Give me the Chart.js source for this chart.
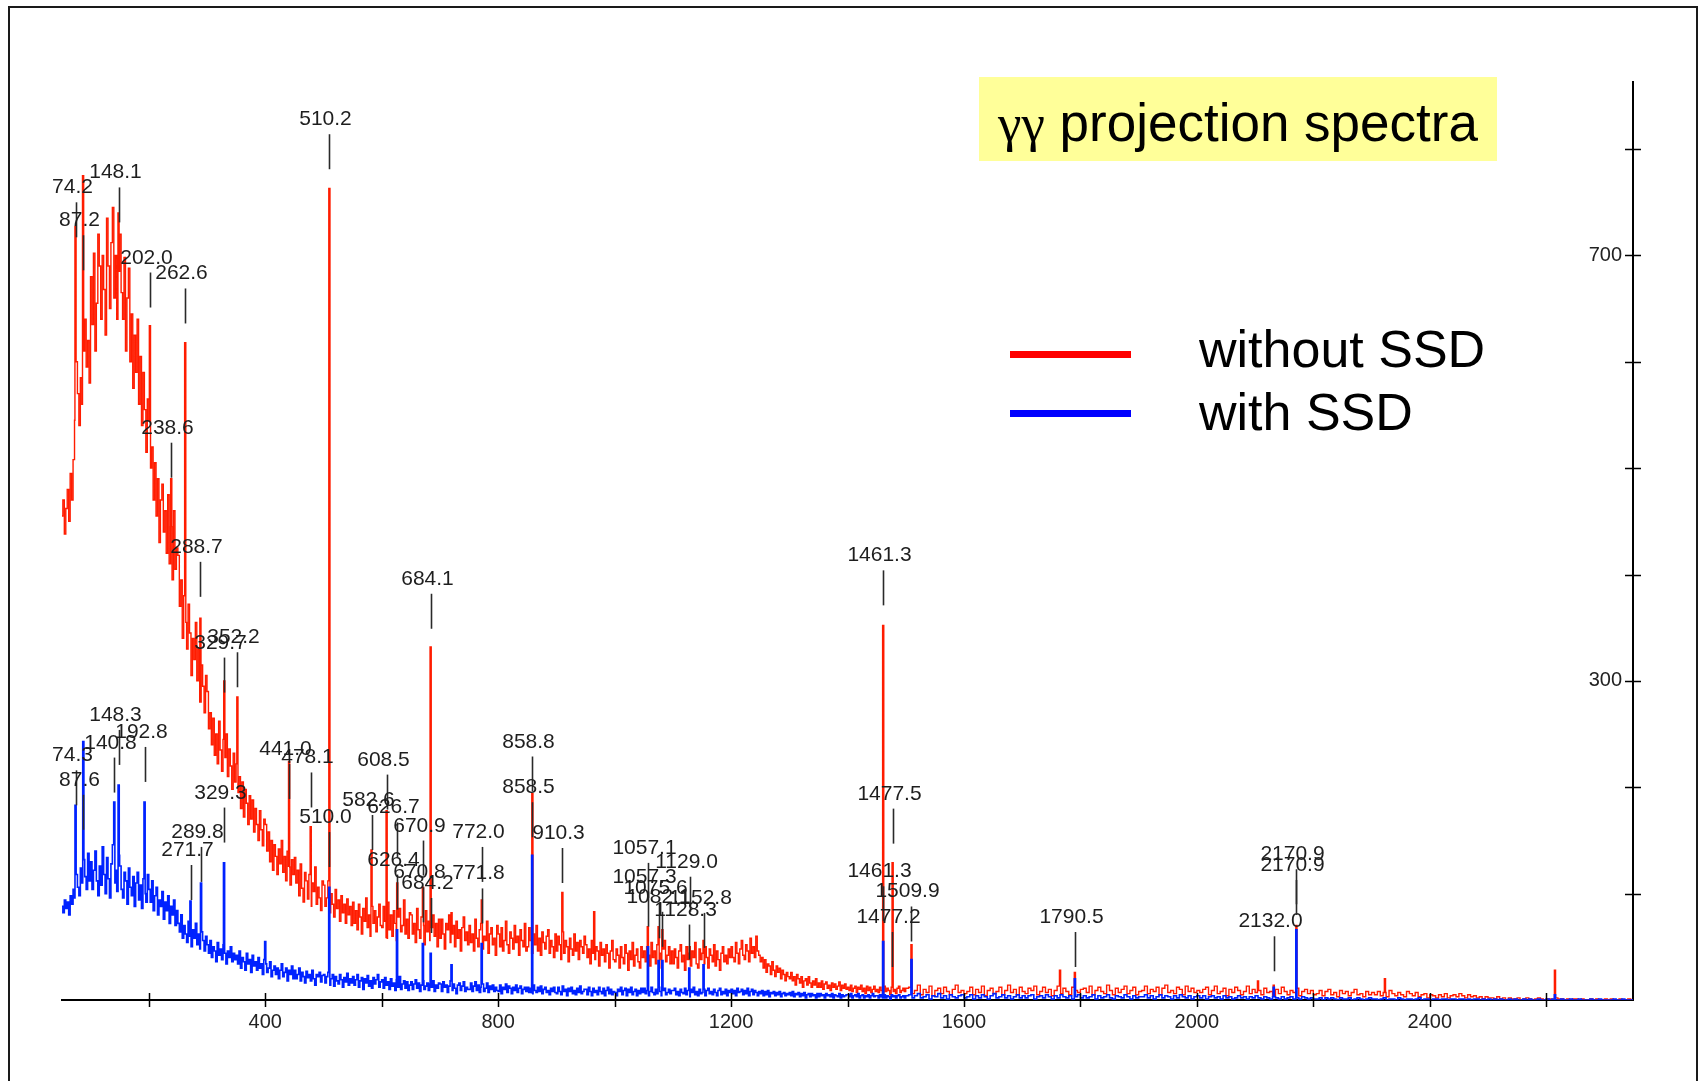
<!DOCTYPE html>
<html>
<head>
<meta charset="utf-8">
<title>γγ projection spectra</title>
<script src="https://cdn.jsdelivr.net/npm/chart.js@4.4.1/dist/chart.umd.min.js"></script>
<style>
	html, body { margin: 0; padding: 0; background: #fff; }
	#page { position: relative; width: 1704px; height: 1081px; overflow: hidden; font-family: "Liberation Sans", Arial, sans-serif; color: #000; }
	#frame { position: absolute; left: 8px; top: 6px; width: 1686px; height: 1100px; border: 2px solid #1a1a1a; border-bottom: none; }
	#spectrum { position: absolute; left: 0; top: 0; }
	#title { position: absolute; left: 979px; top: 77px; width: 518px; height: 84px; background: #ffff99; }
	#title span { position: absolute; left: 19px; top: 19px; font-size: 53px; line-height: 53px; white-space: nowrap; }
	#title .gg { position: static; font-family: "Liberation Serif", "DejaVu Serif", serif; }
	.key { position: absolute; left: 1010px; width: 121px; height: 7px; }
	.key-text { position: absolute; left: 1199px; font-size: 52px; line-height: 52px; white-space: nowrap; }
</style>
</head>
<body>
<div id="page">
	<div id="frame"></div>
	<canvas id="spectrum" width="1704" height="1081"></canvas>
	<div id="title"><span><span class="gg">γγ</span> projection spectra</span></div>
	<div class="key" style="top:351px;background:#ff0000"></div>
	<div class="key-text" style="top:323px">without SSD</div>
	<div class="key" style="top:410px;background:#0000ff"></div>
	<div class="key-text" style="top:386px">with SSD</div>
</div>
<script>
'use strict';

// energy grid (keV): 2.5 keV bins up to 1500, 5 keV bins above
var lowStart = 50, lowStep = 2.5;
var highStart = 1505, highStep = 5;

// counts without SSD, low part (one row = 50 keV)
var redLow = [
	455, 470, 438, 462, 480, 450, 495, 470, 508, 545, 600, 570, 540, 585, 560, 610, 640, 595, 620, 580,   // 50
	680, 635, 702, 610, 655, 720, 690, 640, 700, 668, 625, 735, 690, 650, 712, 745, 660, 700, 640, 685,   // 100
	720, 665, 640, 698, 610, 660, 688, 600, 645, 575, 625, 590, 640, 560, 605, 540, 590, 555, 515, 565,   // 150
	545, 500, 520, 470, 505, 455, 490, 430, 470, 485, 440, 460, 420, 475, 410, 445, 395, 460, 405, 425,   // 200
	418, 370, 395, 340, 380, 355, 330, 372, 345, 305, 340, 320, 355, 300, 330, 280, 315, 295, 270, 305,   // 250
	290, 255, 270, 240, 265, 230, 250, 222, 262, 235, 215, 245, 228, 250, 210, 236, 220, 198, 232, 205,   // 300
	222, 195, 210, 180, 205, 172, 198, 185, 165, 192, 170, 188, 158, 180, 165, 150, 178, 160, 145, 170,   // 350
	165, 140, 158, 130, 150, 122, 146, 135, 118, 142, 128, 150, 120, 135, 112, 140, 125, 108, 132, 118,   // 400
	134, 110, 122, 98, 128, 105, 92, 120, 112, 95, 118, 88, 110, 102, 125, 90, 106, 96, 84, 112,          // 450
	108, 88, 96, 112, 82, 100, 90, 78, 104, 86, 94, 74, 98, 82, 90, 72, 95, 80, 88, 70,                   // 500
	92, 72, 84, 66, 90, 78, 62, 86, 74, 96, 68, 80, 60, 88, 72, 84, 64, 78, 90, 70,                       // 550
	68, 88, 74, 58, 92, 66, 80, 60, 84, 72, 56, 78, 86, 64, 70, 94, 62, 76, 58, 82,                       // 600
	80, 62, 72, 54, 86, 66, 58, 78, 70, 52, 84, 64, 74, 56, 68, 80, 60, 72, 50, 76,                       // 650
	58, 76, 62, 48, 72, 66, 80, 54, 62, 70, 50, 74, 58, 66, 46, 68, 78, 56, 64, 52,                       // 700
	70, 54, 62, 46, 76, 58, 50, 66, 72, 48, 60, 56, 74, 44, 62, 68, 52, 58, 42, 70,                       // 750
	62, 50, 68, 46, 56, 74, 52, 44, 64, 58, 48, 70, 54, 60, 42, 66, 56, 50, 72, 46,                       // 800
	50, 68, 56, 44, 62, 52, 70, 46, 58, 42, 64, 54, 48, 60, 66, 44, 56, 50, 40, 62,                       // 850
	46, 60, 52, 38, 64, 44, 56, 50, 36, 58, 48, 42, 62, 46, 54, 38, 56, 50, 44, 60,                       // 900
	52, 40, 48, 34, 56, 44, 38, 50, 46, 32, 54, 42, 48, 36, 52, 44, 30, 46, 56, 38,                       // 950
	36, 48, 42, 30, 50, 40, 34, 52, 44, 28, 46, 38, 54, 32, 42, 48, 36, 30, 50, 40,                       // 1000
	46, 36, 50, 42, 32, 54, 40, 46, 34, 52, 38, 44, 30, 48, 56, 36, 42, 50, 34, 46,                       // 1050
	34, 48, 40, 30, 46, 52, 36, 42, 28, 50, 38, 44, 32, 46, 40, 54, 34, 30, 48, 38,                       // 1100
	44, 34, 50, 40, 30, 48, 42, 36, 52, 32, 46, 38, 28, 44, 50, 36, 42, 34, 48, 40,                       // 1150
	50, 40, 36, 54, 44, 34, 48, 56, 42, 38, 52, 46, 36, 58, 44, 50, 40, 60, 46, 42,                       // 1200
	36, 40, 30, 38, 26, 34, 32, 24, 36, 28, 22, 32, 26, 30, 20, 28, 24, 18, 26, 22,                       // 1250
	20, 26, 18, 22, 14, 24, 20, 16, 22, 12, 18, 20, 14, 22, 16, 12, 18, 14, 20, 12,                       // 1300
	16, 12, 18, 10, 15, 17, 11, 14, 9, 16, 12, 15, 10, 13, 17, 9, 14, 11, 15, 10,                         // 1350
	12, 9, 14, 8, 11, 13, 7, 12, 10, 14, 8, 11, 6, 13, 9, 12, 7, 10, 13, 8,                               // 1400
	10, 7, 12, 9, 6, 13, 8, 11, 9, 5, 12, 8, 10, 6, 11, 13, 7, 9, 11, 8,                                  // 1450
	11                                                                                                    // 1500
];

// counts without SSD, high part (one row = 100 keV)
var redHigh = [
	12, 6, 9, 14, 5, 10, 7, 13, 4, 9, 11, 6, 12, 8, 5, 10, 14, 7, 9, 6,     // 1505
	8, 12, 5, 10, 7, 13, 4, 9, 11, 6, 8, 12, 5, 9, 14, 7, 10, 5, 12, 8,     // 1605
	6, 11, 9, 13, 5, 8, 12, 7, 10, 4, 9, 13, 6, 11, 8, 5, 12, 9, 7, 10,     // 1705
	11, 7, 13, 5, 9, 12, 8, 6, 14, 9, 5, 11, 7, 10, 13, 6, 9, 12, 5, 8,     // 1805
	9, 13, 6, 10, 8, 12, 5, 11, 14, 7, 9, 6, 12, 10, 5, 13, 8, 11, 7, 9,    // 1905
	7, 10, 12, 5, 9, 13, 6, 8, 11, 4, 10, 7, 12, 9, 5, 8, 13, 6, 10, 7,     // 2005
	9, 5, 11, 7, 8, 4, 10, 6, 12, 8, 5, 9, 7, 11, 4, 8, 10, 6, 9, 5,        // 2105
	6, 9, 4, 8, 10, 5, 7, 3, 9, 6, 8, 4, 7, 10, 5, 6, 3, 8, 5, 7,           // 2205
	5, 8, 4, 7, 3, 9, 6, 4, 7, 5, 3, 8, 6, 4, 7, 3, 5, 6, 2, 5,             // 2305
	4, 2, 5, 3, 6, 2, 4, 5, 3, 6, 4, 2, 5, 3, 4, 2, 3, 1, 3, 2,             // 2405
	2, 1, 3, 1, 2, 0, 2, 1, 1, 2, 0, 1, 2, 1, 0, 1, 2, 1, 0, 1,             // 2505
	1, 0, 2, 1, 1, 0, 1, 0, 1, 1, 0, 1, 0, 0, 1, 0, 1, 0, 0, 1,             // 2605
	0, 1, 0, 0, 1, 0, 0, 1, 0, 0                                            // 2705
];

// counts with SSD, low part
var blueLow = [
	88, 82, 94, 86, 92, 80, 98, 90, 104, 96, 118, 106, 98, 124, 110, 132, 116, 104, 138, 112,        // 50
	130, 104, 122, 140, 112, 98, 126, 108, 144, 118, 100, 134, 114, 96, 128, 146, 110, 122, 102, 136, // 100
	126, 104, 96, 120, 112, 90, 124, 106, 98, 116, 88, 110, 120, 94, 108, 86, 114, 100, 92, 118,      // 150
	104, 92, 112, 84, 98, 106, 80, 94, 88, 102, 76, 92, 84, 98, 72, 88, 80, 94, 70, 84,               // 200
	72, 64, 80, 58, 70, 62, 54, 74, 60, 50, 66, 58, 72, 52, 62, 48, 64, 56, 46, 60,                   // 250
	52, 44, 56, 40, 50, 46, 36, 54, 42, 48, 38, 52, 44, 34, 46, 40, 50, 36, 44, 38,                   // 300
	42, 34, 46, 30, 40, 36, 28, 44, 34, 38, 26, 42, 32, 36, 28, 40, 30, 34, 24, 38,                   // 350
	34, 26, 30, 36, 22, 28, 32, 24, 30, 20, 28, 34, 22, 26, 30, 18, 28, 24, 32, 20,                   // 400
	28, 20, 24, 30, 18, 26, 22, 16, 27, 21, 24, 18, 28, 20, 14, 24, 22, 26, 17, 23,                   // 450
	24, 16, 22, 26, 14, 20, 24, 13, 22, 18, 15, 24, 19, 12, 21, 17, 25, 14, 20, 16,                   // 500
	22, 14, 19, 24, 12, 18, 21, 10, 20, 16, 23, 13, 18, 11, 21, 15, 19, 24, 12, 17,                   // 550
	19, 11, 21, 14, 17, 10, 20, 13, 16, 9, 19, 12, 22, 10, 15, 18, 11, 17, 9, 14,                     // 600
	17, 10, 15, 19, 11, 16, 8, 14, 18, 10, 13, 16, 9, 15, 12, 18, 8, 14, 11, 16,                      // 650
	15, 8, 17, 12, 14, 7, 13, 18, 9, 15, 11, 6, 14, 16, 9, 13, 17, 8, 12, 10,                         // 700
	10, 16, 8, 13, 17, 9, 14, 7, 12, 15, 8, 11, 16, 7, 13, 10, 14, 8, 12, 9,                          // 750
	8, 14, 6, 12, 10, 15, 7, 13, 11, 6, 12, 9, 14, 7, 11, 13, 6, 10, 12, 8,                           // 800
	12, 7, 11, 6, 14, 9, 7, 12, 8, 13, 6, 10, 12, 7, 9, 5, 11, 8, 12, 7,                              // 850
	6, 12, 8, 5, 13, 8, 10, 4, 11, 8, 12, 6, 9, 5, 11, 7, 13, 6, 8, 10,                               // 900
	10, 5, 12, 8, 4, 11, 7, 9, 5, 12, 8, 6, 11, 4, 9, 12, 6, 10, 5, 8,                                // 950
	7, 4, 10, 8, 12, 5, 9, 11, 4, 10, 7, 12, 5, 8, 10, 4, 9, 6, 11, 7,                                // 1000
	11, 6, 9, 4, 8, 12, 7, 5, 10, 6, 12, 8, 4, 9, 11, 5, 7, 10, 6, 9,                                 // 1050
	9, 11, 5, 8, 4, 10, 7, 6, 11, 5, 9, 3, 10, 7, 12, 5, 8, 4, 10, 6,                                 // 1100
	7, 10, 4, 9, 11, 6, 8, 5, 10, 7, 4, 9, 11, 5, 8, 6, 10, 4, 9, 7,                                  // 1150
	10, 6, 9, 4, 11, 7, 8, 10, 5, 9, 6, 11, 4, 8, 10, 5, 9, 7, 4, 8,                                  // 1200
	6, 9, 4, 8, 5, 9, 3, 7, 6, 8, 4, 7, 5, 8, 3, 6, 7, 4, 6, 5,                                       // 1250
	7, 4, 8, 3, 6, 5, 7, 3, 6, 4, 7, 2, 5, 6, 3, 6, 4, 5, 2, 6,                                       // 1300
	3, 6, 4, 5, 2, 6, 4, 5, 3, 6, 2, 5, 4, 3, 6, 2, 5, 3, 4, 5,                                       // 1350
	5, 3, 6, 2, 4, 5, 3, 6, 2, 4, 5, 2, 4, 3, 5, 2, 4, 6, 3, 4,                                       // 1400
	4, 2, 5, 3, 2, 5, 2, 4, 3, 1, 5, 3, 4, 2, 4, 5, 2, 3, 4, 2,                                       // 1450
	4                                                                                                 // 1500
];

// counts with SSD, high part
var blueHigh = [
	5, 2, 4, 6, 2, 3, 5, 1, 4, 3, 6, 2, 4, 1, 5, 3, 2, 4, 5, 2,     // 1505
	3, 5, 1, 4, 2, 5, 3, 1, 4, 6, 2, 3, 5, 2, 4, 1, 3, 5, 2, 4,     // 1605
	2, 4, 5, 1, 3, 4, 2, 5, 3, 1, 4, 2, 5, 3, 2, 4, 1, 3, 5, 2,     // 1705
	4, 2, 3, 5, 1, 4, 2, 3, 5, 2, 1, 4, 3, 2, 5, 3, 1, 4, 2, 3,     // 1805
	3, 5, 2, 4, 1, 3, 5, 2, 4, 3, 1, 4, 2, 5, 3, 2, 4, 1, 3, 4,     // 1905
	2, 4, 1, 3, 4, 2, 3, 1, 4, 2, 3, 1, 2, 4, 2, 3, 1, 3, 2, 4,     // 2005
	2, 1, 3, 2, 1, 3, 2, 1, 3, 1, 2, 3, 1, 2, 1, 3, 2, 1, 2, 1,     // 2105
	1, 2, 0, 2, 1, 2, 1, 0, 2, 1, 1, 2, 0, 1, 2, 1, 0, 1, 2, 1,     // 2205
	1, 0, 1, 2, 0, 1, 1, 0, 2, 1, 0, 1, 1, 0, 1, 2, 0, 1, 1, 0,     // 2305
	1, 1, 0, 1, 1, 0, 1, 1, 0, 1, 1, 0, 1, 0, 1, 1, 0, 1, 0, 1,     // 2405
	0, 1, 0, 1, 0, 0, 1, 0, 1, 0, 0, 1, 0, 1, 0, 0, 1, 0, 0, 1,     // 2505
	0, 1, 0, 0, 1, 0, 0, 1, 0, 0, 1, 0, 0, 0, 1, 0, 0, 1, 0, 0,     // 2605
	0, 0, 1, 0, 0, 1, 0, 0, 0, 1                                    // 2705
];

// photopeaks (keV) and peak channel counts
var redPeakEnergy = [74.2, 87.2, 148.1, 202.0, 238.6, 262.6, 288.7, 329.7, 352.2, 441.0,
	478.1, 510.2, 582.6, 608.5, 626.7, 670.9, 684.1, 720, 772.0, 858.8,
	910.3, 965, 1057.1, 1075.6, 1082.1, 1129.0, 1152.8, 1461.3, 1477.5, 1509.9,
	1765, 1790.5, 2105, 2132.0, 2170.9, 2323, 2615];
var redPeakTop = [727, 775, 740, 634, 490, 618, 359, 300, 285, 224,
	163, 763, 141, 178, 110, 106, 332, 82, 94, 194,
	101, 83, 69, 69, 66, 50, 56, 352, 129, 52,
	28, 26, 18, 14, 70, 20, 28];

var bluePeakEnergy = [74.3, 87.6, 140.8, 148.3, 192.8, 271.7, 289.8, 329.3, 400, 510.0,
	626.4, 670.8, 684.2, 720, 771.8, 858.5, 1057.3, 1075.6, 1082.1, 1128.3,
	1152.8, 1461.3, 1509.9, 1790.5, 2132.0, 2170.9, 2615];
var bluePeakTop = [183, 243, 186, 202, 186, 93, 110, 129, 55, 106,
	66, 53, 44, 33, 53, 136, 50, 37, 37, 30,
	33, 55, 38, 20, 12, 66, 5];

// peak annotations: energy text and the count where the marker line ends
var labelText = ["510.2", "74.2", "87.2", "148.1", "202.0", "262.6", "238.6", "288.7", "329.7", "352.2",
	"684.1", "441.0", "478.1", "510.0", "608.5", "582.6", "626.7", "626.4", "670.9", "670.8",
	"684.2", "772.0", "771.8", "858.8", "858.5", "910.3", "1057.1", "1057.3", "1075.6", "1082.1",
	"1129.0", "1128.3", "1152.8", "1461.3", "1477.5", "1461.3", "1509.9", "1477.2", "1790.5", "2132.0",
	"2170.9", "2170.9", "74.3", "87.6", "140.8", "148.3", "192.8", "329.3", "289.8", "271.7"];
var labelCount = [781, 717, 686, 731, 651, 636, 491, 379, 289, 294,
	349, 189, 181, 125, 179, 141, 134, 85, 117, 73,
	63, 111, 72, 196, 153, 110, 96, 69, 58, 50,
	83, 38, 49, 371, 147, 74, 55, 31, 31, 27,
	90, 80, 183, 160, 195, 221, 205, 148, 111, 94];

// axis ticks
var xTickValues = [200, 400, 600, 800, 1000, 1200, 1400, 1600, 1800, 2000, 2200, 2400, 2600];
var xLabelValues = [400, 800, 1200, 1600, 2000, 2400];
var yTickValues = [100, 200, 300, 400, 500, 600, 700, 800];
var yLabelValues = [300, 700];

(function(){

	var FONT = '"Liberation Sans", Arial, sans-serif';
	var halfWidth = 1.0;   // half width of a drawn photopeak, keV

	// bin start energies for both parts of the grid
	var energies = [];
	redLow.forEach(function(v, i){ energies.push(lowStart + i * lowStep); });
	redHigh.forEach(function(v, i){ energies.push(highStart + i * highStep); });

	var red = redLow.concat(redHigh);
	var blue = blueLow.concat(blueHigh);

	// count of the bin containing energy e
	var binValue = function(counts, e){
		var k = 0;
		while (k + 1 < energies.length && energies[k + 1] <= e) k++;
		return counts[k];
	};

	// histogram points with the photopeaks cut into their bins
	var spectrumPoints = function(counts, peakE, peakTop){
		var pts = [];
		energies.forEach(function(e, i){
			var inPeak = peakE.some(function(p){ return e > p - halfWidth && e < p + halfWidth; });
			if (!inPeak) pts.push({x: e, y: counts[i]});
		});
		peakE.forEach(function(p, k){
			pts.push({x: p - halfWidth, y: peakTop[k]});
			pts.push({x: p + halfWidth, y: binValue(counts, p + halfWidth)});
		});
		pts.sort(function(a, b){ return a.x - b.x; });
		return pts;
	};

	// ticks that cross both axis lines
	var crossTicks = {
		id: 'crossTicks',
		afterDraw: function(chart){
			var ctx = chart.ctx, xs = chart.scales.x, ys = chart.scales.y, a = chart.chartArea;
			ctx.save();
			ctx.strokeStyle = '#000';
			ctx.lineWidth = 1.5;
			ctx.beginPath();
			xTickValues.forEach(function(v){
				var px = Math.round(xs.getPixelForValue(v)) + 0.5;
				ctx.moveTo(px, a.bottom - 7);
				ctx.lineTo(px, a.bottom + 7);
			});
			yTickValues.forEach(function(v){
				var py = Math.round(ys.getPixelForValue(v)) + 0.5;
				ctx.moveTo(a.right - 8, py);
				ctx.lineTo(a.right + 8, py);
			});
			ctx.stroke();
			ctx.restore();
		}
	};

	// energy labels with their marker lines
	var peakMarks = {
		id: 'peakMarks',
		afterDatasetsDraw: function(chart){
			var ctx = chart.ctx, xs = chart.scales.x, ys = chart.scales.y;
			ctx.save();
			ctx.strokeStyle = '#2a2a2a';
			ctx.lineWidth = 1.6;
			ctx.fillStyle = '#1e1e1e';
			ctx.font = '21px ' + FONT;
			ctx.textAlign = 'center';
			ctx.textBaseline = 'alphabetic';
			labelText.forEach(function(t, i){
				var px = Math.round(xs.getPixelForValue(parseFloat(t))) + 0.5;
				var bottom = ys.getPixelForValue(labelCount[i]);
				var top = bottom - 35;
				ctx.beginPath();
				ctx.moveTo(px, bottom);
				ctx.lineTo(px, top);
				ctx.stroke();
				ctx.fillText(t, px - 4, top - 9);
			});
			ctx.restore();
		}
	};

	var ctx = document.getElementById('spectrum').getContext('2d');
	new Chart(ctx, {
		type: 'line',
		data: {
			datasets: [
				{
					label: 'with SSD',
					data: spectrumPoints(blue, bluePeakEnergy, bluePeakTop),
					borderColor: 'rgb(0,34,255)',
					borderWidth: 1.6,
					stepped: 'before',
					pointRadius: 0,
					order: 0
				},
				{
					label: 'without SSD',
					data: spectrumPoints(red, redPeakEnergy, redPeakTop),
					borderColor: 'rgb(255,28,0)',
					borderWidth: 1.4,
					stepped: 'before',
					pointRadius: 0,
					order: 1
				}
			]
		},
		options: {
			responsive: false,
			animation: false,
			devicePixelRatio: 1,
			layout: { padding: { left: 62, top: 82, right: 0, bottom: 0 } },
			plugins: {
				legend: { display: false },
				tooltip: { enabled: false }
			},
			scales: {
				x: {
					type: 'linear',
					min: 51,
					max: 2749,
					afterBuildTicks: function(s){ s.ticks = xTickValues.map(function(v){ return {value: v}; }); },
					afterFit: function(s){ s.height = 81; },
					grid: { display: false, drawTicks: false },
					border: { display: true, color: '#000', width: 2 },
					ticks: {
						autoSkip: false,
						maxRotation: 0,
						padding: 10,
						color: '#222',
						font: { family: FONT, size: 20 },
						callback: function(v){ return xLabelValues.indexOf(v) >= 0 ? String(v) : ''; }
					}
				},
				y: {
					type: 'linear',
					position: 'right',
					min: 0,
					max: 863,
					afterBuildTicks: function(s){ s.ticks = yTickValues.map(function(v){ return {value: v}; }); },
					afterFit: function(s){ s.width = 71; },
					grid: { display: false, drawTicks: false },
					border: { display: true, color: '#000', width: 2 },
					ticks: {
						mirror: true,
						padding: -11,
						color: '#222',
						font: { family: FONT, size: 20 },
						callback: function(v){ return yLabelValues.indexOf(v) >= 0 ? String(v) : ''; }
					}
				}
			}
		},
		plugins: [crossTicks, peakMarks]
	});

})();
</script>
</body>
</html>
